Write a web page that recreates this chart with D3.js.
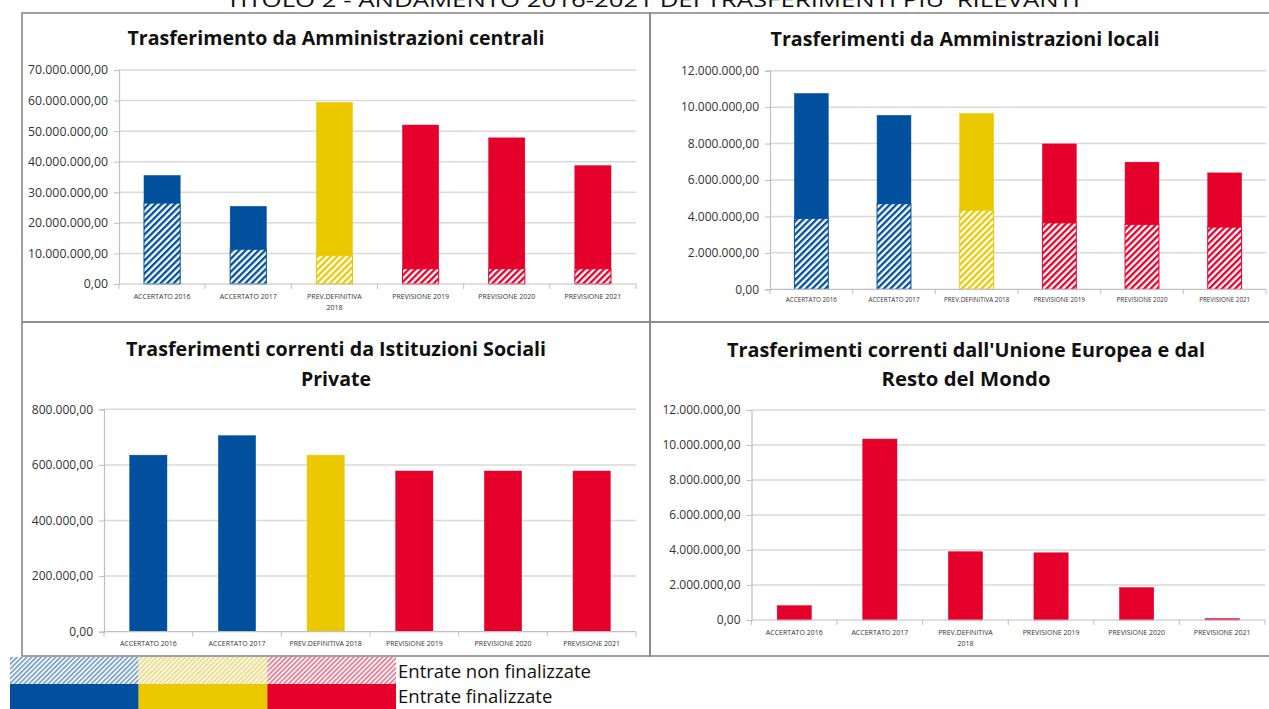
<!DOCTYPE html>
<html>
<head>
<meta charset="utf-8">
<script src="https://cdn.jsdelivr.net/npm/d3@7"></script>
<style>
  body { margin: 0; background: #fff; }
  svg { display: block; font-family: "Open Sans", sans-serif; }
</style>
</head>
<body>
<svg id="vis" width="1269" height="709"></svg>
<script>
// categorie e valori
const categorie = ["ACCERTATO 2016", "ACCERTATO 2017", "PREV.DEFINITIVA 2018", "PREVISIONE 2019", "PREVISIONE 2020", "PREVISIONE 2021"];
const fasi = ["accertato", "accertato", "prevDef", "previsione", "previsione", "previsione"];
const fasiUe = ["previsione", "previsione", "previsione", "previsione", "previsione", "previsione"];

// Trasferimento da Amministrazioni centrali
const centraliNonFin = [26.5e6, 11.4e6, 9.4e6, 5.0e6, 5.0e6, 5.0e6];
const centraliFin = [9.0e6, 14.0e6, 50.0e6, 47.0e6, 42.8e6, 33.7e6];
const centraliTicks = [0, 10e6, 20e6, 30e6, 40e6, 50e6, 60e6, 70e6];

// Trasferimenti da Amministrazioni locali
const localiNonFin = [3.9e6, 4.7e6, 4.35e6, 3.65e6, 3.57e6, 3.42e6];
const localiFin = [6.85e6, 4.85e6, 5.3e6, 4.33e6, 3.41e6, 2.97e6];
const localiTicks = [0, 2e6, 4e6, 6e6, 8e6, 10e6, 12e6];

// Trasferimenti correnti da Istituzioni Sociali Private
const socialiNonFin = [0, 0, 0, 0, 0, 0];
const socialiFin = [635000, 705000, 635000, 578000, 578000, 578000];
const socialiTicks = [0, 200000, 400000, 600000, 800000];

// Trasferimenti correnti dall'Unione Europea e dal Resto del Mondo
const ueNonFin = [0, 0, 0, 0, 0, 0];
const ueFin = [0.82e6, 10.34e6, 3.9e6, 3.84e6, 1.85e6, 0.08e6];
const ueTicks = [0, 2e6, 4e6, 6e6, 8e6, 10e6, 12e6];

const legendaVoci = ["Entrate non finalizzate", "Entrate finalizzate"];

const colori = { accertato: "#00509e", prevDef: "#ebc800", previsione: "#e4002b" };

const it = d3.formatLocale({ decimal: ",", thousands: ".", grouping: [3], currency: ["", "€"] });
const fmt = it.format(",.2f");

const svg = d3.select("#vis");
const defs = svg.append("defs");

// pattern tratteggiato per le entrate non finalizzate
Object.keys(colori).forEach(k => {
  const p = defs.append("pattern")
    .attr("id", "hatch-" + k)
    .attr("patternUnits", "userSpaceOnUse")
    .attr("width", 4.6).attr("height", 4.6)
    .attr("patternTransform", "rotate(45)");
  p.append("rect").attr("width", 4.6).attr("height", 4.6).attr("fill", "#fff");
  p.append("rect").attr("width", 2.3).attr("height", 4.6).attr("fill", colori[k]);

  const q = defs.append("pattern")
    .attr("id", "legHatch-" + k)
    .attr("patternUnits", "userSpaceOnUse")
    .attr("width", 3.4).attr("height", 3.4)
    .attr("patternTransform", "rotate(45)");
  q.append("rect").attr("width", 3.4).attr("height", 3.4).attr("fill", "#f4f6f6");
  q.append("rect").attr("width", 1.5).attr("height", 3.4).attr("fill", colori[k]).attr("opacity", 0.55);
});

// titolo generale (tagliato in alto come nell'originale)
svg.append("text")
  .attr("x", 653).attr("y", 7)
  .attr("text-anchor", "middle")
  .attr("font-size", "20px")
  .attr("fill", "#111")
  .attr("textLength", 854)
  .attr("lengthAdjust", "spacingAndGlyphs")
  .text("TITOLO 2 - ANDAMENTO 2016-2021 DEI TRASFERIMENTI PIU' RILEVANTI");

// cornici dei pannelli
[[22, 13, 628, 309], [650, 13, 630, 309], [22, 322, 628, 334], [650, 322, 630, 334]].forEach(r => {
  svg.append("rect")
    .attr("x", r[0]).attr("y", r[1]).attr("width", r[2]).attr("height", r[3])
    .attr("fill", "none").attr("stroke", "#8a8a8a").attr("stroke-width", 1.6);
});

function drawChart(cfg) {
  const g = svg.append("g");

  const x = d3.scaleBand().domain(categorie).range([cfg.left, cfg.right]).padding(0);
  const y = d3.scaleLinear().domain([0, cfg.ticks[cfg.ticks.length - 1]]).range([cfg.bottom, cfg.top]);

  // titolo
  cfg.title.forEach((t, i) => {
    g.append("text")
      .attr("x", cfg.titleX).attr("y", cfg.titleY + i * 29.5)
      .attr("text-anchor", "middle")
      .attr("font-weight", "bold")
      .attr("font-size", "19px")
      .attr("fill", "#111")
      .attr("textLength", cfg.titleW[i])
      .attr("lengthAdjust", "spacingAndGlyphs")
      .text(t);
  });

  // griglia
  g.append("g")
    .selectAll("line")
    .data(cfg.ticks.slice(1))
    .join("line")
    .attr("x1", cfg.left).attr("x2", cfg.right)
    .attr("y1", d => y(d)).attr("y2", d => y(d))
    .attr("stroke", "#d9d9d9").attr("stroke-width", 1.5);

  // asse y
  const yAxis = g.append("g")
    .attr("transform", `translate(${cfg.left},0)`)
    .call(d3.axisLeft(y).tickValues(cfg.ticks).tickFormat(fmt).tickSize(5).tickPadding(6));
  yAxis.select(".domain").attr("stroke", "#bfbfbf").attr("stroke-width", 1.2);
  yAxis.selectAll(".tick line").attr("stroke", "#bfbfbf");
  yAxis.selectAll(".tick text")
    .attr("font-family", "Open Sans, sans-serif")
    .attr("font-size", cfg.yFont + "px")
    .attr("fill", "#333");

  // barre impilate
  const rows = categorie.map((c, i) => ({ cat: c, fase: cfg.fasi[i], nonFin: cfg.nonFin[i], fin: cfg.fin[i] }));
  const stack = d3.stack().keys(["nonFin", "fin"])(rows);
  const bw = x.step() * cfg.barFrac;

  stack.forEach(layer => {
    g.append("g")
      .selectAll("rect")
      .data(layer.filter(d => d[1] - d[0] > 0))
      .join("rect")
      .attr("x", d => x(d.data.cat) + (x.step() - bw) / 2)
      .attr("width", bw)
      .attr("y", d => y(d[1]))
      .attr("height", d => y(d[0]) - y(d[1]))
      .attr("fill", d => layer.key === "nonFin" ? `url(#hatch-${d.data.fase})` : colori[d.data.fase])
      .attr("stroke", d => colori[d.data.fase])
      .attr("stroke-width", layer.key === "nonFin" ? 1 : 0.5);
  });

  // asse x
  g.append("line")
    .attr("x1", cfg.left).attr("x2", cfg.right)
    .attr("y1", cfg.bottom).attr("y2", cfg.bottom)
    .attr("stroke", "#bfbfbf").attr("stroke-width", 1.2);
  g.append("g")
    .selectAll("line")
    .data(d3.range(categorie.length + 1))
    .join("line")
    .attr("x1", i => cfg.left + i * x.step()).attr("x2", i => cfg.left + i * x.step())
    .attr("y1", cfg.bottom).attr("y2", cfg.bottom + 5)
    .attr("stroke", "#bfbfbf");

  categorie.forEach(c => {
    const lines = (cfg.wrap && c.length > 16) ? [c.slice(0, c.lastIndexOf(" ")), c.slice(c.lastIndexOf(" ") + 1)] : [c];
    lines.forEach((l, j) => {
      g.append("text")
        .attr("x", x(c) + x.step() / 2)
        .attr("y", cfg.bottom + cfg.xLabDy + j * 11)
        .attr("text-anchor", "middle")
        .attr("font-size", cfg.xFont + "px")
        .attr("fill", "#333")
        .text(l);
    });
  });
}

drawChart({
  title: ["Trasferimento da Amministrazioni centrali"], titleW: [417], titleX: 336, titleY: 45,
  left: 119, right: 636, top: 70, bottom: 284,
  ticks: centraliTicks, nonFin: centraliNonFin, fin: centraliFin, fasi: fasi,
  barFrac: 0.42, yFont: 12.3, xFont: 7, xLabDy: 15, wrap: true
});

drawChart({
  title: ["Trasferimenti da Amministrazioni locali"], titleW: [389], titleX: 965, titleY: 45.5,
  left: 770, right: 1266, top: 70.7, bottom: 289.3,
  ticks: localiTicks, nonFin: localiNonFin, fin: localiFin, fasi: fasi,
  barFrac: 0.41, yFont: 12, xFont: 6.3, xLabDy: 13, wrap: false
});

drawChart({
  title: ["Trasferimenti correnti da Istituzioni Sociali", "Private"], titleW: [420, 70], titleX: 336, titleY: 356,
  left: 104, right: 636, top: 409.3, bottom: 631.7,
  ticks: socialiTicks, nonFin: socialiNonFin, fin: socialiFin, fasi: fasi,
  barFrac: 0.42, yFont: 12, xFont: 7, xLabDy: 14, wrap: false
});

drawChart({
  title: ["Trasferimenti correnti dall'Unione Europea e dal", "Resto del Mondo"], titleW: [478, 169], titleX: 966, titleY: 356.5,
  left: 751.5, right: 1265, top: 410, bottom: 620,
  ticks: ueTicks, nonFin: ueNonFin, fin: ueFin, fasi: fasiUe,
  barFrac: 0.40, yFont: 12, xFont: 7, xLabDy: 15, wrap: true
});

// legenda
const legFasi = ["accertato", "prevDef", "previsione"];
const legX = d3.scaleBand().domain(legFasi).range([10, 396]);
const leg = svg.append("g");
leg.selectAll("rect.h")
  .data(legFasi).join("rect").attr("class", "h")
  .attr("x", d => legX(d)).attr("y", 657)
  .attr("width", legX.bandwidth()).attr("height", 27)
  .attr("fill", d => `url(#legHatch-${d})`);
leg.selectAll("rect.s")
  .data(legFasi).join("rect").attr("class", "s")
  .attr("x", d => legX(d)).attr("y", 684)
  .attr("width", legX.bandwidth()).attr("height", 25)
  .attr("fill", d => colori[d]);
leg.selectAll("text")
  .data(legendaVoci).join("text")
  .attr("x", 398).attr("y", (d, i) => 678 + i * 24.5)
  .attr("font-size", "18.5px")
  .attr("fill", "#111")
  .text(d => d);
</script>
</body>
</html>
